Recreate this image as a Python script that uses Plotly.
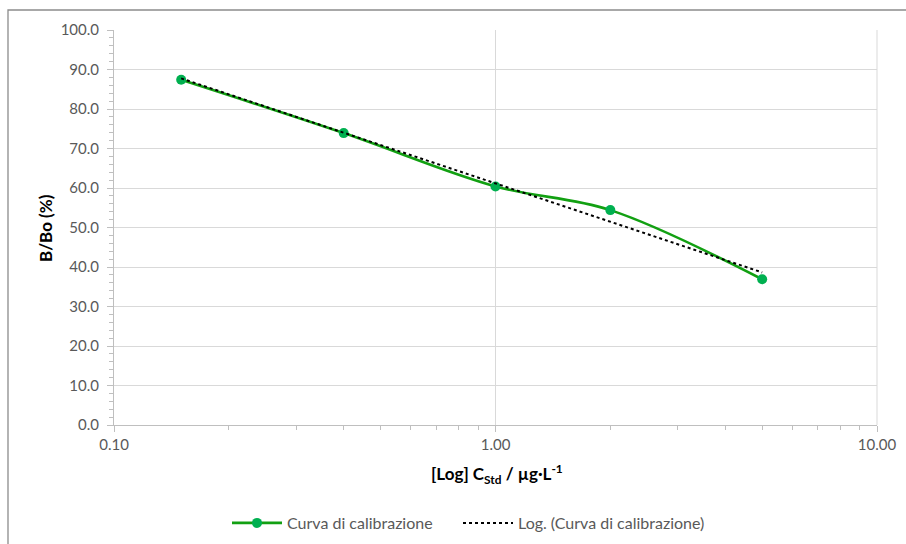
import numpy as np
import plotly.graph_objects as go

# Calibration standards (µg/L) and measured B/Bo (%)
conc = [0.15, 0.4, 1.0, 2.0, 5.0]
b_bo = [87.4, 73.9, 60.4, 54.4, 36.9]

y_ticks = [0, 10, 20, 30, 40, 50, 60, 70, 80, 90, 100]
x_ticks = [0.1, 1, 10]
x_tick_labels = ["0.10", "1.00", "10.00"]

# Logarithmic trendline: y = a*ln(x) + b
a, b = np.polyfit(np.log(conc), b_bo, 1)
x_fit = np.logspace(np.log10(min(conc)), np.log10(max(conc)), 60)
y_fit = a * np.log(x_fit) + b

FONT = "Lato, 'Open Sans', sans-serif"
GREY = "#595959"

W, H = 906, 544
ML, MR, MT, MB = 114, 29, 30, 119
pw, ph = W - ML - MR, H - MT - MB

def px_x(px):
    return (px - ML) / pw

def px_y(py):
    return (H - MB - py) / ph

fig = go.Figure()
fig.add_trace(go.Scatter(
    x=conc, y=b_bo, mode="lines+markers", name="Curva di calibrazione",
    line=dict(color="#12A012", width=2.6, shape="spline", smoothing=1),
    marker=dict(color="#00B050", size=10),
    legend="legend",
))
fig.add_trace(go.Scatter(
    x=x_fit, y=y_fit, mode="lines", name="Log. (Curva di calibrazione)",
    line=dict(color="#000000", width=2, dash="dot"),
    legend="legend2",
))

legend_style = dict(orientation="h", y=px_y(523), xanchor="left", yanchor="middle",
                    font=dict(family=FONT, size=16, color=GREY),
                    itemwidth=50, bgcolor="rgba(0,0,0,0)")

fig.update_layout(
    width=W, height=H,
    margin=dict(l=ML, r=MR, t=MT, b=MB, pad=0, autoexpand=False),
    paper_bgcolor="white", plot_bgcolor="white",
    font=dict(family=FONT, size=15, color=GREY),
    showlegend=True,
    legend=dict(x=px_x(227), **legend_style),
    legend2=dict(x=px_x(458), **legend_style),
    xaxis=dict(
        type="log", range=[-1, 1],
        tickvals=x_ticks, ticktext=x_tick_labels,
        showgrid=True, gridcolor="#d9d9d9", gridwidth=1,
        showline=True, linecolor="#bfbfbf", linewidth=1, mirror=False,
        ticks="outside", ticklen=6, tickcolor="#bfbfbf",
        minor=dict(ticks="outside", ticklen=4, tickcolor="#bfbfbf",
                   showgrid=False, dtick="D1"),
        zeroline=False, tickfont=dict(size=15, color=GREY),
    ),
    yaxis=dict(
        range=[0, 100], tickvals=y_ticks,
        tickformat=".1f",
        showgrid=True, gridcolor="#d9d9d9", gridwidth=1,
        showline=True, linecolor="#bfbfbf", linewidth=1,
        ticks="outside", ticklen=6, tickcolor="#bfbfbf",
        ticklabelstandoff=5,
        minor=dict(ticks="outside", ticklen=4, tickcolor="#bfbfbf",
                   dtick=2, showgrid=False),
        zeroline=False, tickfont=dict(size=15, color=GREY),
    ),
    annotations=[
        dict(text="<b>[Log] C<sub>Std</sub> / µg·L<sup>-1</sup></b>",
             xref="paper", yref="paper", x=px_x(497), y=px_y(474),
             xanchor="center", yanchor="middle", showarrow=False,
             font=dict(family=FONT, size=17, color="#000000")),
        dict(text="<b>B/Bo (%)</b>", textangle=-90,
             xref="paper", yref="paper", x=px_x(45), y=px_y(228),
             xanchor="center", yanchor="middle", showarrow=False,
             font=dict(family=FONT, size=17, color="#000000")),
    ],
    shapes=[
        # right edge of the plot area
        dict(type="line", xref="paper", yref="paper", x0=1, x1=1, y0=0, y1=1,
             line=dict(color="#d9d9d9", width=1)),
        # chart frame
        dict(type="rect", xref="paper", yref="paper",
             x0=px_x(8), x1=px_x(W + 10), y0=px_y(H + 10), y1=px_y(10),
             line=dict(color="#8c8c8c", width=1.3), layer="below"),
    ],
)

fig.write_html("out.html")
